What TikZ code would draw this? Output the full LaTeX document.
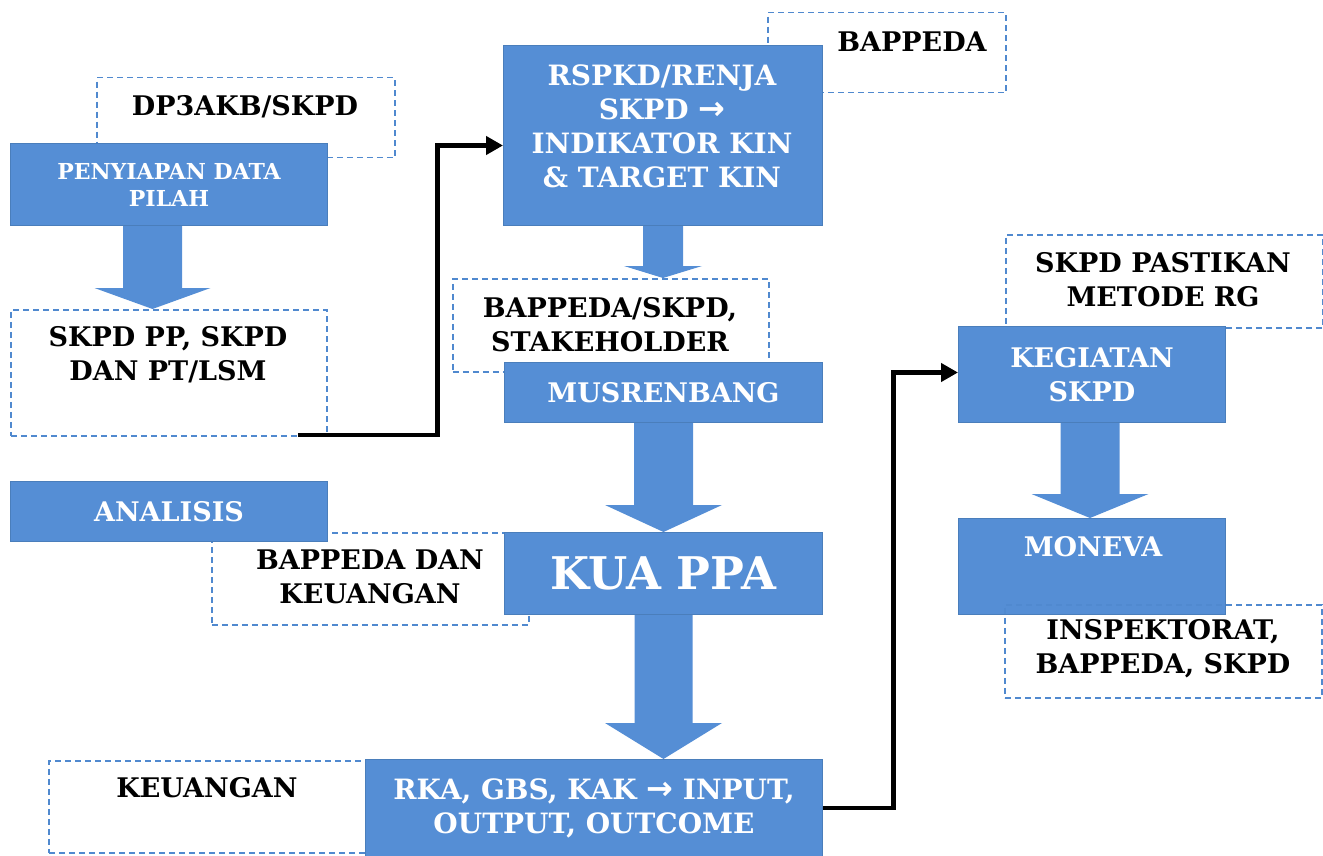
\documentclass[tikz,border=0pt]{standalone}
\usepackage{fontspec}
\setmainfont{DejaVu Serif}
\newfontfamily\panahfont{DejaVu Sans}
\usetikzlibrary{arrows.meta, calc, positioning}
\definecolor{biru}{HTML}{558ED5}
\definecolor{birutepi}{HTML}{4A7EBB}
\definecolor{putus}{HTML}{5089CF}

\newcommand{\kanan}{{\panahfont\bfseries\fontsize{32}{34}\selectfont →}}

\tikzset{
  kotak/.style={fill=biru, draw=birutepi, line width=1pt, text=white,
    font=\bfseries\fontsize{27}{34}\selectfont, align=center,
    anchor=north west, inner sep=0pt},
  bingkai/.style={draw=putus, dash pattern=on 6pt off 4pt, line width=1.5pt,
    anchor=north west, inner sep=0pt},
  teks/.style={font=\bfseries\fontsize{27}{34}\selectfont, align=center},
  alur/.style={line width=4.5pt, -{Triangle[length=17pt,width=18pt]}},
}

% panah blok: dari, ke, setengah batang, setengah kepala, panjang kepala
\newcommand{\panahblok}[5]{%
  \fill[biru] let \p1=(#1), \p2=(#2) in
    (\x1-#3,\y1) -- (\x1+#3,\y1) -- (\x1+#3,\y2+#5) -- (\x1+#4,\y2+#5)
    -- (\x1,\y2) -- (\x1-#4,\y2+#5) -- (\x1-#3,\y2+#5) -- cycle;}

\begin{document}
\begin{tikzpicture}[x=1pt, y=-1pt]
  \useasboundingbox (0,0) rectangle (1323,856);

  % bingkai putus-putus (di belakang)
  \node[bingkai, minimum width=298, minimum height=80] (b-dp3akb) at (96,77) {};
  \node[bingkai, minimum width=238, minimum height=80] (b-bappeda) at (767,12) {};
  \node[bingkai, minimum width=316, minimum height=126] (b-skpdpp) at (10,309) {};
  \node[bingkai, minimum width=316, minimum height=93] (b-stake) at (452,278) {};
  \node[bingkai, minimum width=317, minimum height=92] (b-keu1) at (211,532) {};
  \node[bingkai, minimum width=330, minimum height=92] (b-keu2) at (48,760) {};
  \node[bingkai, minimum width=317, minimum height=93] (b-pastikan) at (1005,234) {};

  % kotak biru
  \node[kotak, minimum width=317, minimum height=82,
    font=\bfseries\fontsize{22}{27}\selectfont] (penyiapan) at (10,143) {PENYIAPAN DATA\\PILAH};
  \node[kotak, minimum width=319, minimum height=180] (rspkd) at (503,45) {};
  \node[kotak, minimum width=318, minimum height=60] (musrenbang) at (504,362) {MUSRENBANG};
  \node[kotak, minimum width=317, minimum height=60] (analisis) at (10,481) {ANALISIS};
  \node[kotak, minimum width=318, minimum height=82,
    font=\bfseries\fontsize{45}{50}\selectfont] (kua) at (504,532) {KUA PPA};
  \node[kotak, minimum width=457, minimum height=97,
    font=\bfseries\fontsize{28}{34}\selectfont] (rka) at (365,759) {RKA, GBS, KAK \kanan{} INPUT,\\OUTPUT, OUTCOME};
  \node[kotak, minimum width=267, minimum height=96] (kegiatan) at (958,326) {KEGIATAN\\SKPD};
  \node[kotak, minimum width=267, minimum height=96] (moneva) at (958,518) {};
  \node[bingkai, minimum width=317, minimum height=93] (b-inspek) at (1004,604) {};

  % teks
  \node[kotak, draw=none, fill=none, anchor=center,
    font=\bfseries\fontsize{28}{34}\selectfont] (t-rspkd) at (662,126) {RSPKD/RENJA\\SKPD \kanan\\INDIKATOR KIN\\\& TARGET KIN};
  \node[kotak, draw=none, fill=none, anchor=center] (t-moneva) at (1093,547) {MONEVA};
  \node[teks] (t-dp3akb) at (245,107) {DP3AKB/SKPD};
  \node[teks] (t-bappeda) at (912,42) {BAPPEDA};
  \node[teks] (t-skpdpp) at (168,355) {SKPD PP, SKPD\\DAN PT/LSM};
  \node[teks] (t-stake) at (610,325) {BAPPEDA/SKPD,\\STAKEHOLDER};
  \node[teks] (t-keu1) at (370,577) {BAPPEDA DAN\\KEUANGAN};
  \node[teks] (t-keu2) at (207,788) {KEUANGAN};
  \node[teks] (t-pastikan) at (1163,280) {SKPD PASTIKAN\\METODE RG};
  \node[teks] (t-inspek) at (1163,649) {INSPEKTORAT,\\BAPPEDA, SKPD};

  % panah blok
  \panahblok{$(penyiapan.south)+(-16.5,0)$}{b-skpdpp.north}{29.5pt}{58pt}{21pt}
  \panahblok{rspkd.south}{b-stake.north}{20pt}{39pt}{12pt}
  \panahblok{musrenbang.south}{kua.north}{29.5pt}{58.5pt}{27pt}
  \panahblok{kua.south}{rka.north}{29pt}{58.5pt}{36pt}
  \panahblok{$(kegiatan.south)+(-2,0)$}{moneva.north}{29.5pt}{58.5pt}{24pt}

  % alur
  \coordinate (mulai) at (298,435);
  \draw[alur] (mulai) -- ++(139.5,0) |- ($(rspkd.west)+(0,10)$);
  \draw[alur] (rka.east) -- ++(70.5,0) |- ($(kegiatan.west)+(0,-2)$);
\end{tikzpicture}
\end{document}
